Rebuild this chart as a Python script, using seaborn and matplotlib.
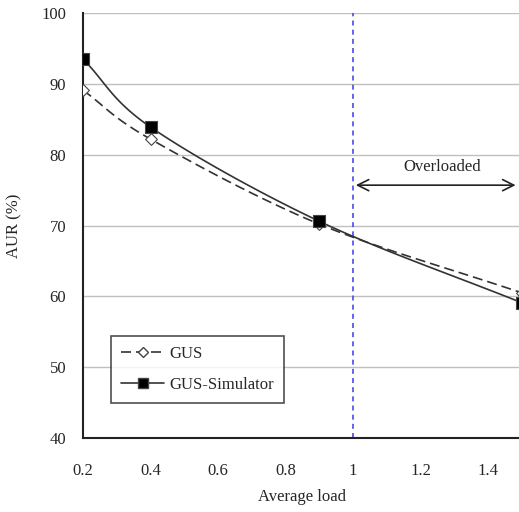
import numpy as np
import pandas as pd
import matplotlib.pyplot as plt
import seaborn as sns

# Values
loads = [0.2, 0.4, 0.9, 1.5]
gus = [89.1, 82.2, 70.2, 60.5]
gus_sim = [93.5, 83.9, 70.6, 59.1]

df = pd.DataFrame({
    'Average load': loads * 2,
    'AUR': gus + gus_sim,
    'Method': ['GUS'] * 4 + ['GUS-Simulator'] * 4,
})


def smooth(x, y, n=40):
    # Catmull-Rom style curve through the points (like a smoothed Excel line)
    x = np.asarray(x, float)
    y = np.asarray(y, float)
    px = np.concatenate([[2 * x[0] - x[1]], x, [2 * x[-1] - x[-2]]])
    py = np.concatenate([[2 * y[0] - y[1]], y, [2 * y[-1] - y[-2]]])
    xs, ys = [], []
    t = np.linspace(0, 1, n)
    for i in range(1, len(px) - 2):
        p0, p1, p2, p3 = [np.array([px[j], py[j]]) for j in range(i - 1, i + 3)]
        m1 = (p2 - p0) / 6
        m2 = (p3 - p1) / 6
        b1, b2 = p1 + m1, p2 - m2
        pts = ((1 - t) ** 3)[:, None] * p1 + (3 * (1 - t) ** 2 * t)[:, None] * b1 \
            + (3 * (1 - t) * t ** 2)[:, None] * b2 + (t ** 3)[:, None] * p2
        xs.extend(pts[:, 0])
        ys.extend(pts[:, 1])
    return np.array(xs), np.array(ys)


sns.set_style('white')
plt.rcParams['font.family'] = ['Liberation Serif', 'DejaVu Serif']

fig = plt.figure(figsize=(5.19, 5.12), dpi=100)
ax = fig.add_axes([0.160, 0.1445, 0.8453, 0.830])

styles = {'GUS': dict(ls=(0, (6, 3)), marker='D', mfc='white', ms=6),
          'GUS-Simulator': dict(ls='-', marker='s', mfc='black', ms=8)}

for name, sub in df.groupby('Method'):
    st = styles[name]
    sx, sy = smooth(sub['Average load'], sub['AUR'])
    ax.plot(sx, sy, color='#333333', lw=1.2, ls=st['ls'], zorder=3)
    sns.scatterplot(x=sub['Average load'], y=sub['AUR'], ax=ax, marker=st['marker'],
                    color=st['mfc'], edgecolor='#444444', s=st['ms'] ** 2,
                    linewidth=0.8, zorder=4, legend=False)
    ax.plot([], [], color='#333333', lw=1.2, ls=st['ls'], marker=st['marker'],
            mfc=st['mfc'], mec='#444444', ms=st['ms'] * 0.85, label=name)

ax.axvline(1.0, color='#4a4ae6', ls=(0, (3, 2.5)), lw=1.2, zorder=2)
ax.annotate('', xy=(1.49, 75.7), xytext=(1.0, 75.7),
            arrowprops=dict(arrowstyle='<->', color='#222222', lw=1.2,
                            mutation_scale=20))
ax.text(1.265, 78.3, 'Overloaded', ha='center', va='center', fontsize=12)

ax.set_xlim(0.2, 1.5)
ax.set_ylim(40, 100)
ax.set_xticks([0.2, 0.4, 0.6, 0.8, 1.0, 1.2, 1.4])
ax.set_xticklabels(['0.2', '0.4', '0.6', '0.8', '1', '1.2', '1.4'])
ax.set_yticks(range(40, 101, 10))
ax.yaxis.grid(True, color='#c0c0c0', lw=1.0)
ax.xaxis.grid(False)
ax.tick_params(axis='x', direction='in', length=4, width=1, pad=18, labelsize=12)
ax.tick_params(axis='y', length=0, pad=12, labelsize=12)
for s in ['top', 'right']:
    ax.spines[s].set_visible(False)
for s in ['left', 'bottom']:
    ax.spines[s].set_color('#222222')
    ax.spines[s].set_linewidth(1.5)

ax.set_xlabel('Average load', fontsize=12, labelpad=7)
ax.set_ylabel('AUR (%)', fontsize=12, labelpad=14)

leg = ax.legend(loc='lower left', bbox_to_anchor=(0.064, 0.082), fontsize=12,
                frameon=True, fancybox=False, edgecolor='#222222', borderaxespad=0,
                handlelength=2.6, handletextpad=0.3, borderpad=0.6, labelspacing=0.9)
leg.get_frame().set_linewidth(1.2)

fig.savefig('out.png', dpi=100)
